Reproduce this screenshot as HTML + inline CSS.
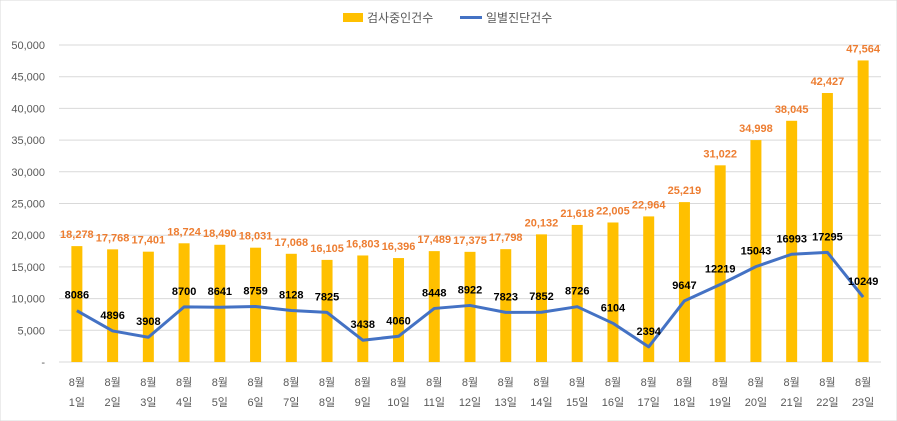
<!DOCTYPE html>
<html><head><meta charset="utf-8">
<style>
body{margin:0;background:#fff;}
svg{display:block;font-family:"Liberation Sans","Noto Sans CJK KR",sans-serif;}
</style></head>
<body>
<svg id="chart" width="897" height="421" viewBox="0 0 897 421">
  <rect width="897" height="421" fill="#fff" stroke="#d9d9d9"/>
  <g id="grid"></g>
  <g id="yaxis"></g>
  <g id="bars"></g>
  <g id="line"></g>
  <g id="xaxis"></g>
  <g>
    <g>
      <rect x="343" y="13" width="20" height="9" fill="#FFC000"/>
      <text x="367" y="22" font-size="12" fill="#595959">검사중인건수</text>
    </g>
    <g>
      <line x1="460" y1="17.5" x2="482" y2="17.5" stroke="#4472C4" stroke-width="3"/>
      <text x="486" y="22" font-size="12" fill="#595959">일별진단건수</text>
    </g>
  </g>
</svg>
<script>
const categories = ["1일","2일","3일","4일","5일","6일","7일","8일","9일","10일","11일","12일","13일","14일","15일","16일","17일","18일","19일","20일","21일","22일","23일"];
const testingValues = [18278,17768,17401,18724,18490,18031,17068,16105,16803,16396,17489,17375,17798,20132,21618,22005,22964,25219,31022,34998,38045,42427,47564];
const dailyValues = [8086,4896,3908,8700,8641,8759,8128,7825,3438,4060,8448,8922,7823,7852,8726,6104,2394,9647,12219,15043,16993,17295,10249];
const yTicks = [0,5000,10000,15000,20000,25000,30000,35000,40000,45000,50000];

const NS="http://www.w3.org/2000/svg";
const plotL=59, plotR=881, y0=362, y1=45, yMax=50000;
const step=(plotR-plotL)/categories.length;
const xPos=i=>plotL+step*(i+0.5);
const yPos=v=>y0-(v/yMax)*(y0-y1);
function mk(tag,attrs,parent){const e=document.createElementNS(NS,tag);for(const k in attrs)e.setAttribute(k,attrs[k]);parent.appendChild(e);return e;}
const fmt=v=>v.toLocaleString("en-US");

const grid=document.getElementById("grid"), yaxis=document.getElementById("yaxis");
yTicks.forEach(t=>{
  const y=yPos(t);
  const l=mk("line",{x1:plotL,x2:plotR,y1:y,y2:y,stroke:"#d9d9d9","stroke-width":1},grid);
  
  
  const tx=mk("text",{x:45,y:y+4,"font-size":11,fill:"#595959","text-anchor":"end"},yaxis);
  tx.textContent=t===0?"-":fmt(t);
  
  
});

const bars=document.getElementById("bars");
testingValues.forEach((v,i)=>{
  const x=xPos(i), y=yPos(v);
  const r=mk("rect",{x:x-5.5,y:y,width:11,height:y0-y,fill:"#FFC000"},bars);
  
  
  const t=mk("text",{x:x,y:y-8,"font-size":11,"font-weight":"bold",fill:"#ED7D31","text-anchor":"middle"},bars);
  t.textContent=fmt(v);
  
  
});

const line=document.getElementById("line");
const pts=dailyValues.map((v,i)=>xPos(i)+","+yPos(v)).join(" ");
const pl=mk("polyline",{points:pts,fill:"none",stroke:"#4472C4","stroke-width":3,"stroke-linejoin":"round"},line);


dailyValues.forEach((v,i)=>{
  const t=mk("text",{x:xPos(i),y:yPos(v)-12,"font-size":11,"font-weight":"bold",fill:"#000","text-anchor":"middle"},line);
  t.textContent=v;
  
  
});

const xaxis=document.getElementById("xaxis");
categories.forEach((c,i)=>{
  const a=mk("text",{x:xPos(i),y:386,"font-size":11,fill:"#595959","text-anchor":"middle"},xaxis);
  a.textContent="8월";
  
  
  const b=mk("text",{x:xPos(i),y:406,"font-size":11,fill:"#595959","text-anchor":"middle"},xaxis);
  b.textContent=c;
  
  
});
</script>
</body></html>
